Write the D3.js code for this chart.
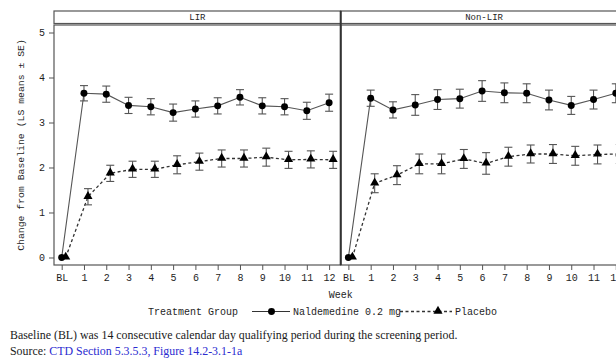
<!DOCTYPE html>
<html>
<head>
<meta charset="utf-8">
<script src="https://cdn.jsdelivr.net/npm/d3@7"></script>
<style>
  html, body { margin: 0; padding: 0; background: #fff; }
  svg { display: block; }
  .mono { font-family: "Liberation Mono", "DejaVu Sans Mono", monospace; fill: #1e1e1e; }
  .serif { font-family: "Liberation Serif", "DejaVu Serif", serif; }
</style>
</head>
<body>
<svg id="chart" width="616" height="358"></svg>
<script>
// Weeks on the x axis (BL = baseline)
const weeks = ["BL", "1", "2", "3", "4", "5", "6", "7", "8", "9", "10", "11", "12"];
const panels = ["LIR", "Non-LIR"];
const groups = ["Naldemedine 0.2 mg", "Placebo"];
const yTicks = [0, 1, 2, 3, 4, 5];

// LS mean change from baseline, per panel and treatment group
const lirNaldemedine    = [0, 3.65, 3.63, 3.38, 3.35, 3.22, 3.30, 3.37, 3.56, 3.37, 3.35, 3.26, 3.44];
const lirPlacebo        = [0, 1.35, 1.87, 1.96, 1.96, 2.06, 2.13, 2.20, 2.20, 2.23, 2.17, 2.18, 2.17];
const nonLirNaldemedine = [0, 3.54, 3.28, 3.39, 3.51, 3.53, 3.70, 3.66, 3.65, 3.50, 3.38, 3.51, 3.65];
const nonLirPlacebo     = [0, 1.65, 1.83, 2.08, 2.08, 2.19, 2.09, 2.24, 2.30, 2.30, 2.26, 2.29, 2.30];

// Standard errors
const lirNaldemedineSE    = [0, 0.17, 0.18, 0.18, 0.18, 0.19, 0.18, 0.18, 0.17, 0.18, 0.18, 0.19, 0.19];
const lirPlaceboSE        = [0, 0.18, 0.18, 0.18, 0.18, 0.20, 0.19, 0.19, 0.19, 0.20, 0.19, 0.19, 0.19];
const nonLirNaldemedineSE = [0, 0.18, 0.18, 0.23, 0.22, 0.21, 0.23, 0.22, 0.21, 0.22, 0.20, 0.21, 0.21];
const nonLirPlaceboSE     = [0, 0.21, 0.21, 0.22, 0.22, 0.21, 0.24, 0.21, 0.20, 0.21, 0.21, 0.21, 0.21];

const footnote = "Baseline (BL) was 14 consecutive calendar day qualifying period during the screening period.";
const sourceLabel = "Source: ";
const sourceRef = "CTD Section 5.3.5.3, Figure 14.2-3.1-1a";

const panelData = [
  { name: panels[0], series: [
      { group: groups[0], mean: lirNaldemedine, se: lirNaldemedineSE },
      { group: groups[1], mean: lirPlacebo, se: lirPlaceboSE } ] },
  { name: panels[1], series: [
      { group: groups[0], mean: nonLirNaldemedine, se: nonLirNaldemedineSE },
      { group: groups[1], mean: nonLirPlacebo, se: nonLirPlaceboSE } ] }
];

const svg = d3.select("#chart");
const frameColor = "#555";

// Layout
const left = 54, panelW = 286.7, stripTop = 11, stripBottom = 23.5, plotTop = 25, plotBottom = 265;
const dodge = { [groups[0]]: 0, [groups[1]]: 4 };

const y = d3.scaleLinear().domain([-0.167, 5.167]).range([plotBottom, plotTop]);

panelData.forEach((p, pi) => {
  const x0 = left + pi * panelW;
  const x = d3.scaleLinear().domain([-0.345, 12.52]).range([x0, x0 + panelW]);
  const g = svg.append("g");

  // strip header
  g.append("rect").attr("x", x0).attr("y", stripTop).attr("width", panelW).attr("height", stripBottom - stripTop)
    .attr("fill", "#fff").attr("stroke", frameColor).attr("stroke-width", 1.2);
  g.append("text").attr("class", "mono").attr("x", x0 + panelW / 2).attr("y", stripTop + 9.3)
    .attr("text-anchor", "middle").attr("font-size", 9).text(p.name);

  // panel frame
  g.append("rect").attr("x", x0).attr("y", plotTop).attr("width", panelW).attr("height", plotBottom - plotTop)
    .attr("fill", "none").attr("stroke", frameColor).attr("stroke-width", 1.2);

  // x axis
  const xAxis = d3.axisBottom(x).tickValues(d3.range(weeks.length))
    .tickFormat(i => weeks[i]).tickSize(5).tickPadding(4);
  const ax = g.append("g").attr("transform", `translate(0,${plotBottom})`).call(xAxis);
  ax.select(".domain").remove();
  ax.selectAll("line").attr("stroke", frameColor);
  ax.selectAll("text").attr("class", "mono").attr("font-size", 10).attr("fill", "#1e1e1e");

  // y axis on first panel
  if (pi === 0) {
    const yAxis = d3.axisLeft(y).tickValues(yTicks).tickSize(5).tickPadding(4).tickFormat(d3.format("d"));
    const ay = g.append("g").attr("transform", `translate(${x0},0)`).call(yAxis);
    ay.select(".domain").remove();
    ay.selectAll("line").attr("stroke", frameColor);
    ay.selectAll("text").attr("class", "mono").attr("font-size", 10).attr("fill", "#1e1e1e");
  }

  const marks = g.append("g");

  p.series.forEach(s => {
    const pts = s.mean.map((m, i) => ({ i, m, se: s.se[i] }));
    const px = d => x(d.i) + dodge[s.group];
    const line = d3.line().x(px).y(d => y(d.m));
    const isPlacebo = s.group === groups[1];

    marks.append("path").datum(pts).attr("d", line).attr("fill", "none")
      .attr("stroke", isPlacebo ? "#333" : "#555").attr("stroke-width", isPlacebo ? 1.3 : 1.1)
      .attr("stroke-dasharray", isPlacebo ? "3,2.5" : null);

    const eb = marks.append("g").attr("stroke", "#555").attr("stroke-width", 1.1);
    pts.filter(d => d.se > 0).forEach(d => {
      const cx = px(d), yt = y(d.m + d.se), yb = y(d.m - d.se);
      eb.append("line").attr("x1", cx).attr("x2", cx).attr("y1", yt).attr("y2", yb);
      eb.append("line").attr("x1", cx - 4).attr("x2", cx + 4).attr("y1", yt).attr("y2", yt);
      eb.append("line").attr("x1", cx - 4).attr("x2", cx + 4).attr("y1", yb).attr("y2", yb);
    });

    const sym = d3.symbol().type(isPlacebo ? d3.symbolTriangle : d3.symbolCircle).size(isPlacebo ? 36 : 38);
    marks.selectAll(null).data(pts).enter().append("path")
      .attr("transform", d => `translate(${px(d)},${y(d.m) + (isPlacebo ? -0.5 : 0)})`)
      .attr("d", sym).attr("fill", "#000");
  });
});

// divider between panels (doubled edge)
svg.append("line").attr("x1", left + panelW).attr("x2", left + panelW)
  .attr("y1", stripTop).attr("y2", plotBottom).attr("stroke", "#333").attr("stroke-width", 2);

// y axis title
svg.append("text").attr("class", "mono").attr("font-size", 9.8)
  .attr("transform", `translate(24,${(plotTop + plotBottom) / 2}) rotate(-90)`)
  .attr("text-anchor", "middle").text("Change from Baseline (LS means \u00b1 SE)");

// x axis title
svg.append("text").attr("class", "mono").attr("font-size", 10)
  .attr("x", left + panelW).attr("y", 298).attr("text-anchor", "middle").text("Week");

// legend
const lg = svg.append("g");
lg.append("text").attr("class", "mono").attr("font-size", 10).attr("x", 148).attr("y", 315).text("Treatment Group");
lg.append("line").attr("x1", 252).attr("x2", 290).attr("y1", 311.5).attr("y2", 311.5)
  .attr("stroke", "#333").attr("stroke-width", 1.2);
lg.append("path").attr("transform", "translate(271.5,311.5)").attr("d", d3.symbol().type(d3.symbolCircle).size(38)).attr("fill", "#000");
lg.append("text").attr("class", "mono").attr("font-size", 10).attr("x", 293).attr("y", 315).text(groups[0]);
lg.append("line").attr("x1", 400).attr("x2", 452).attr("y1", 311.5).attr("y2", 311.5)
  .attr("stroke", "#333").attr("stroke-width", 1.3).attr("stroke-dasharray", "3,2.5");
lg.append("path").attr("transform", "translate(438,311)").attr("d", d3.symbol().type(d3.symbolTriangle).size(36)).attr("fill", "#000");
lg.append("text").attr("class", "mono").attr("font-size", 10).attr("x", 455).attr("y", 315).text(groups[1]);

// footnotes
svg.append("text").attr("class", "serif").attr("font-size", 11.9).attr("fill", "#1a1a1a")
  .attr("x", 10).attr("y", 339).text(footnote);
const src = svg.append("text").attr("class", "serif").attr("font-size", 11.9).attr("x", 10).attr("y", 355);
src.append("tspan").attr("fill", "#1a1a1a").text(sourceLabel);
src.append("tspan").attr("fill", "#2b2bd0").text(sourceRef);
</script>
</body>
</html>
